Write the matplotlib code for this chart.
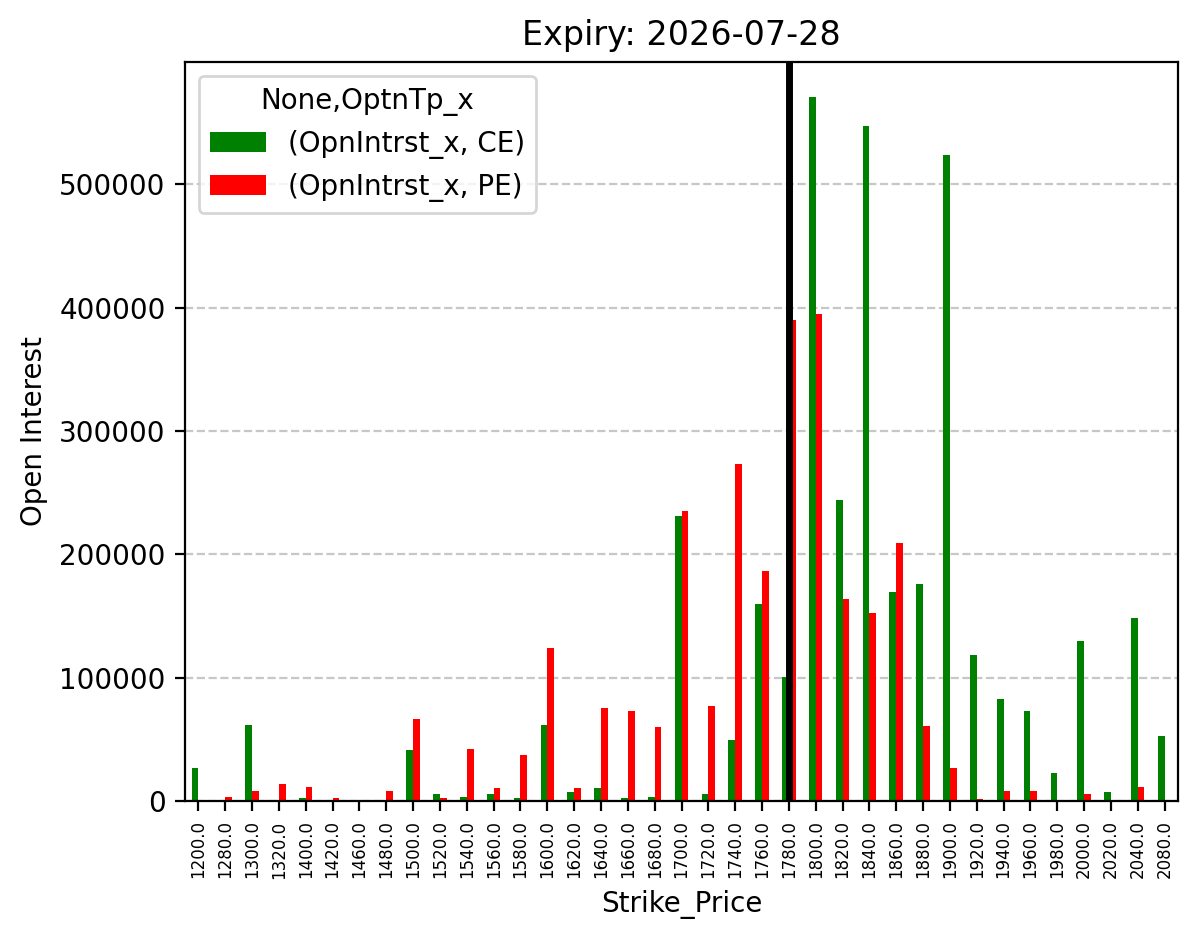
import matplotlib
matplotlib.use("Agg")
import matplotlib.pyplot as plt
import numpy as np

strikes = [1200, 1280, 1300, 1320, 1400, 1420, 1460, 1480, 1500, 1520, 1540, 1560,
           1580, 1600, 1620, 1640, 1660, 1680, 1700, 1720, 1740, 1760, 1780, 1800,
           1820, 1840, 1860, 1880, 1900, 1920, 1940, 1960, 1980, 2000, 2020, 2040, 2080]
ce_oi = [27000, 0, 62000, 0, 2400, 0, 0, 0, 41500, 5700, 3300, 5700,
         2400, 62000, 7300, 10600, 2400, 3300, 231000, 5700, 49500, 159500, 100500, 570500,
         244000, 547000, 169500, 176000, 523500, 118000, 83000, 73000, 22800, 129500, 7300, 148500, 52800]
pe_oi = [0, 3300, 8100, 14000, 11400, 2400, 0, 8100, 66500, 2400, 42200, 10600,
         37000, 124000, 10600, 75000, 73000, 60000, 235000, 77000, 273000, 186500, 390000, 395000,
         163500, 152500, 209000, 61000, 27000, 1600, 8100, 8100, 0, 5700, 0, 11400, 0]
labels = [f"{float(s)}" for s in strikes]
spot_strike = 1780
title = "Expiry: 2026-07-28"

fig = plt.figure(figsize=(5.985, 4.695), dpi=200)
ax = fig.add_axes([185/1197, (939-801)/939, (1178-185)/1197, (801-62)/939])

x = np.arange(len(strikes))
w = 0.25
ax.bar(x - w/2, ce_oi, width=w, color="green", label="(OpnIntrst_x, CE)")
ax.bar(x + w/2, pe_oi, width=w, color="red", label="(OpnIntrst_x, PE)")
ax.set_xlim(-0.5, len(strikes) - 0.5)
ax.set_xticks(x)
ax.set_xticklabels(labels, rotation=90, fontsize=6)
ax.axvline(strikes.index(spot_strike), color="black", linewidth=2.5)
ax.yaxis.grid(True, linestyle="--", alpha=0.7)
ax.set_axisbelow(True)
ax.set_xlabel("Strike_Price")
ax.set_ylabel("Open Interest")
ax.set_title(title)
ax.legend(title="None,OptnTp_x", loc="upper left")

fig.savefig("out.png", dpi=200)
